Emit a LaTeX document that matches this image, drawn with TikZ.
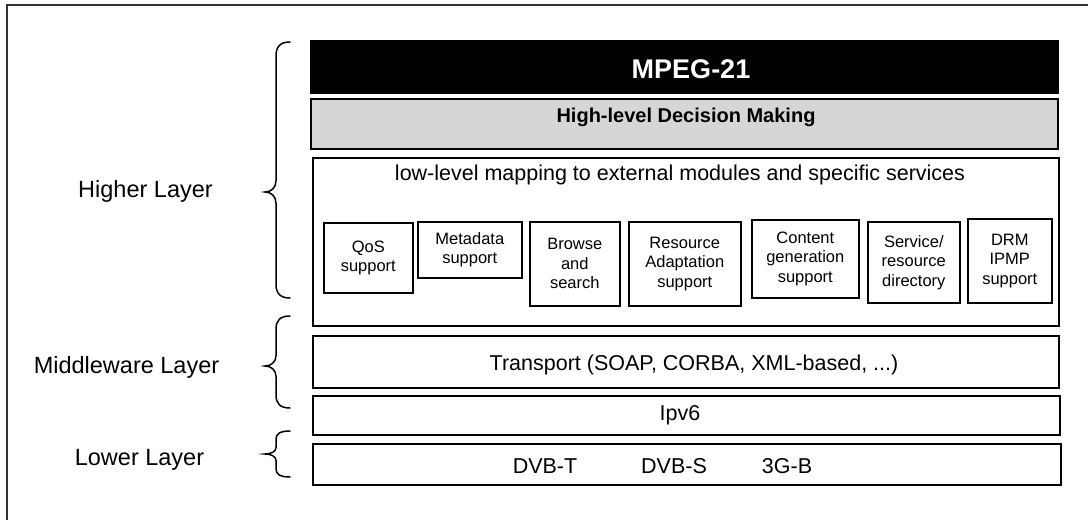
\documentclass[tikz,border=0pt]{standalone}
\usepackage{fontspec}
\setmainfont{Liberation Sans}
\setsansfont{Liberation Sans}
\begin{document}
\begin{tikzpicture}[x=1pt,y=-1pt,
  frame/.style={line width=1.2pt, draw=black!80},
  layerbox/.style={draw, line width=1.6pt, rectangle, inner sep=0pt, anchor=north west},
  modbox/.style={draw, line width=1.6pt, rectangle, inner sep=0pt, anchor=north west,
    align=center, font=\fontsize{16.5}{19.5}\selectfont},
  bigtext/.style={font=\fontsize{21.5}{24}\selectfont, anchor=base, inner sep=0pt},
  layerlabel/.style={font=\fontsize{23.5}{26}\selectfont, anchor=base, inner sep=0pt},
  bracestyle/.style={line width=1.5pt, line cap=round}
]
\useasboundingbox (0,0) rectangle (1090,520);

% outer frame (top and left edges)
\draw[frame] (1088,5) -- (7,5) -- (7,520);

% layer stack
\node[layerbox, fill=black, minimum width=747pt, minimum height=52pt] (mpeg) at (310,40) {};
\node[layerbox, fill=black!16, minimum width=747pt, minimum height=50pt] (hldm) at (310,98) {};
\node[layerbox, minimum width=746pt, minimum height=168pt] (llm) at (312,157) {};
\node[layerbox, minimum width=746pt, minimum height=52pt] (transport) at (312,335) {};
\node[layerbox, minimum width=747pt, minimum height=39pt] (ipv6) at (312,395) {};
\node[layerbox, minimum width=748pt, minimum height=41pt] (phy) at (312,443) {};

% layer texts
\node[anchor=base, inner sep=0pt, text=white, font=\fontsize{27}{30}\selectfont\bfseries] (mpegtxt) at (691,78) {MPEG-21};
\node[anchor=base, inner sep=0pt, font=\fontsize{20}{23}\selectfont\bfseries] (hldmtxt) at (686,122) {High-level Decision Making};
\node[bigtext] (llmtxt) at (680,180) {low-level mapping to external modules and specific services};
\node[bigtext] (transporttxt) at (694,370) {Transport (SOAP, CORBA, XML-based, ...)};
\node[bigtext] (ipv6txt) at (680,420) {Ipv6};
\node[bigtext] (dvbt) at (545,473) {DVB-T};
\node[bigtext] (dvbs) at (674,473) {DVB-S};
\node[bigtext] (threeg) at (787,473) {3G-B};

% service modules
\node[modbox, minimum width=89pt, minimum height=70pt] (qos) at (323,222) {QoS\\support};
\node[modbox, minimum width=104pt, minimum height=56pt] (meta) at (417,221) {Metadata\\support};
\node[modbox, minimum width=90pt, minimum height=84pt] (browse) at (529,221) {Browse\\and\\search};
\node[modbox, minimum width=112pt, minimum height=84pt] (radapt) at (628,221) {Resource\\Adaptation\\support};
\node[modbox, minimum width=107pt, minimum height=78pt] (content) at (751,219) {Content\\generation\\support};
\node[modbox, minimum width=92pt, minimum height=81pt] (service) at (867,221) {Service/\\resource\\directory};
\node[modbox, minimum width=84pt, minimum height=84pt] (drm) at (967,218) {DRM\\IPMP\\support};

% layer labels
\node[layerlabel] (higher) at (145.5,197) {Higher Layer};
\node[layerlabel] (middle) at (126.5,373) {Middleware Layer};
\node[layerlabel] (lower) at (139.5,465) {Lower Layer};

% curly braces: top, tip, bottom, curl length
\newcommand\LayerBrace[4]{%
  \draw[bracestyle] (290,#1) .. controls (280,#1) and (276,#1+#4*0.35) .. (276,#1+#4)
    -- (276,#2-#4*0.8) .. controls (276,#2-#4*0.3) and (271,#2) .. (265,#2)
    .. controls (271,#2) and (276,#2+#4*0.3) .. (276,#2+#4*0.8)
    -- (276,#3-#4) .. controls (276,#3-#4*0.35) and (280,#3) .. (290,#3);}
\LayerBrace{42}{192}{298}{14}
\LayerBrace{316}{366}{408}{13}
\LayerBrace{431}{454}{477}{8}
\end{tikzpicture}
\end{document}
